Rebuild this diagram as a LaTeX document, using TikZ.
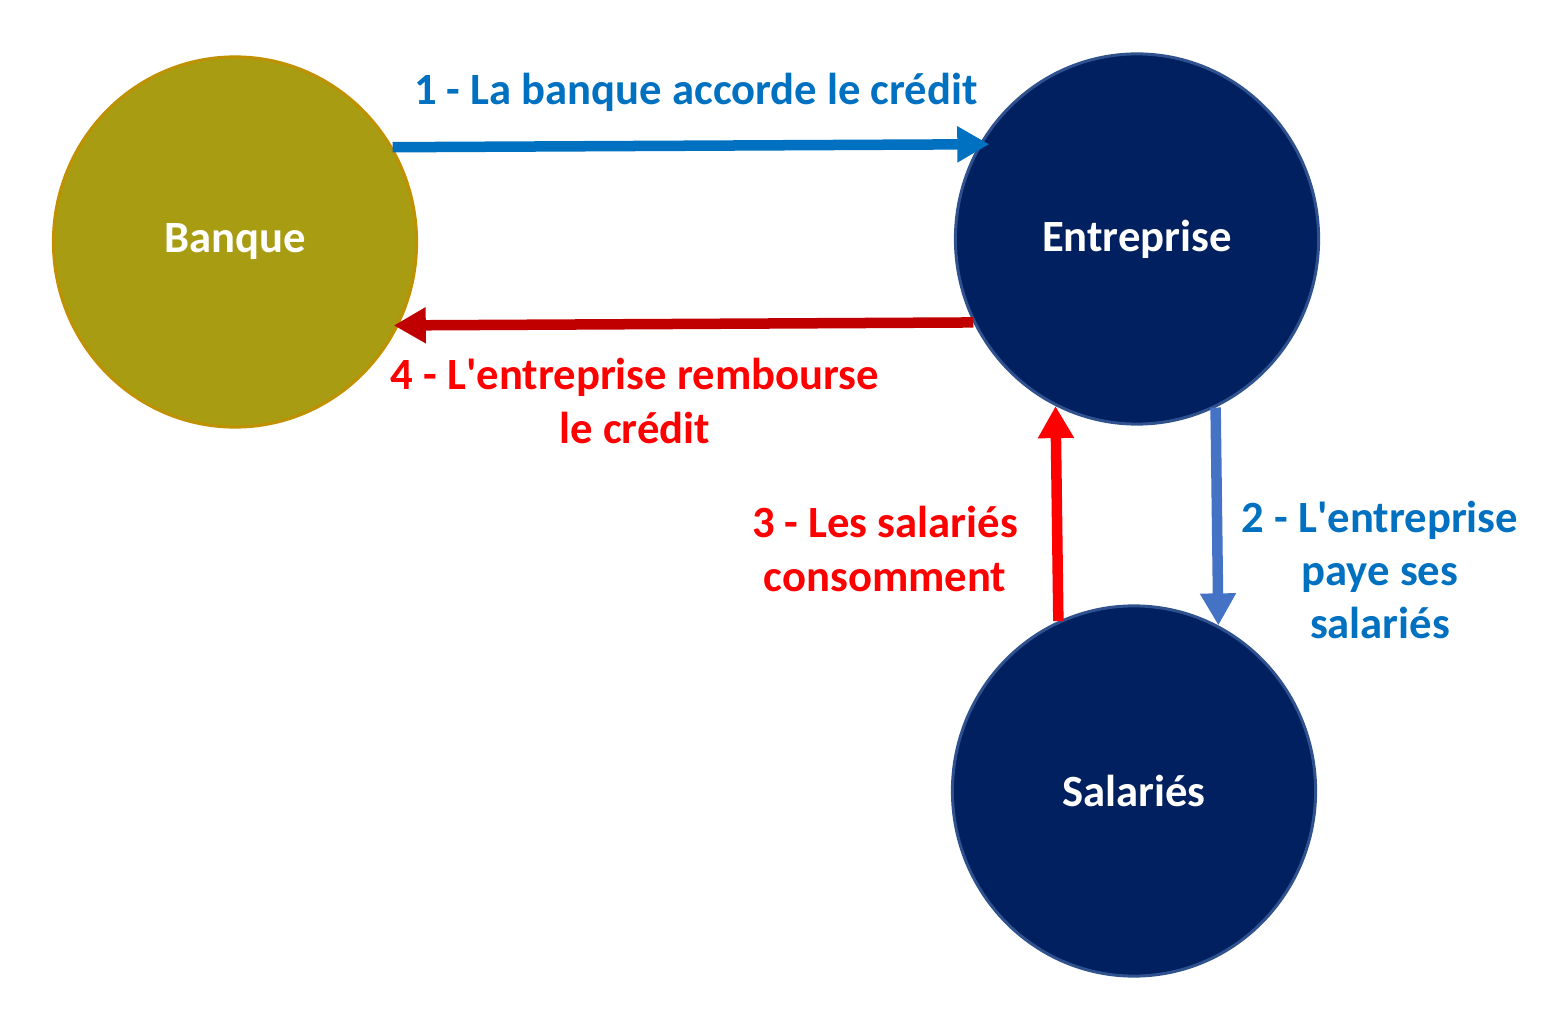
\documentclass[tikz,border=0pt]{standalone}
\usepackage{fontspec}
\setmainfont{Carlito}
\usetikzlibrary{arrows.meta,shapes.geometric}
\definecolor{banquefill}{HTML}{A89C12}
\definecolor{banqueline}{HTML}{BF9000}
\definecolor{navyfill}{HTML}{002060}
\definecolor{navyline}{HTML}{2F528F}
\definecolor{creditblue}{HTML}{0070C0}
\definecolor{salaireblue}{HTML}{4472C4}
\definecolor{consored}{HTML}{FF0000}
\definecolor{rembred}{HTML}{C00000}

\begin{document}
\begin{tikzpicture}[
    x = 0.01cm,
    y = -0.01cm,
    acteur/.style = {ellipse, minimum width=3.63cm, minimum height=3.70cm,
      line width=0.03cm, text=white, font=\bfseries\fontsize{12.7}{15.2}\selectfont},
    fleche/.style = {-{Triangle[length=0.32cm, width=0.34cm]}, line width=0.105cm},
    etiquette/.style = {align=center, font=\bfseries\fontsize{12.7}{15.2}\selectfont},
    ]
    \useasboundingbox (0,0) rectangle (1552,1028);
    % circles
    \node[acteur, fill=banquefill, draw=banqueline] (banque) at (235, 242) {Banque};
    \node[acteur, fill=navyfill, draw=navyline] (entreprise) at (1137, 239) {Entreprise};
    \node[acteur, fill=navyfill, draw=navyline] (salaries) at (1134, 791) {Salariés};
    % arrows
    \draw[fleche, color=creditblue]
    (banque.31) -- ([xshift=0.1cm]entreprise.149.5);
    \draw[fleche, color=rembred]
    (entreprise.207) -- ([xshift=-0.05cm]banque.-27);
    \draw[fleche, color=salaireblue]
    (entreprise.-65) -- (salaries.63);
    \draw[fleche, color=consored]
    (salaries.114) -- (entreprise.244);
    % labels
    \node[etiquette, text=creditblue] (lab1) at (696, 92) {1 - La banque accorde le crédit};
    \node[etiquette, text=creditblue] (lab2) at (1380, 570)
    {2 - L\textquotesingle entreprise\\ paye ses\\ salariés};
    \node[etiquette, text=consored] (lab3) at (885, 549) {3 - Les salariés\\ consomment};
    \node[etiquette, text=consored] (lab4) at (635, 401)
    {4 - L\textquotesingle entreprise rembourse\\ le crédit};
  \end{tikzpicture}
\end{document}
